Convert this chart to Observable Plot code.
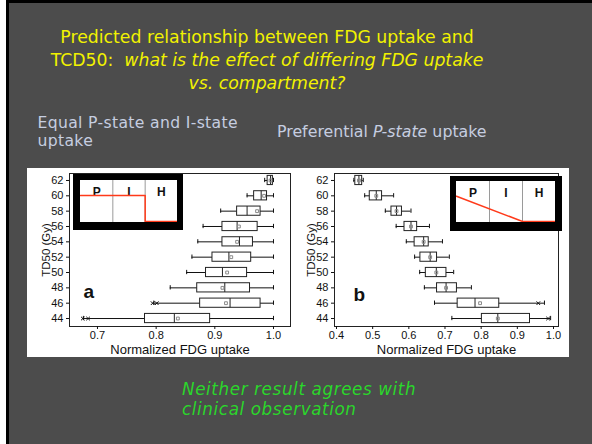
<!DOCTYPE html>
<html><head><meta charset="utf-8">
<script src="https://cdn.jsdelivr.net/npm/d3@7"></script>
<script src="https://cdn.jsdelivr.net/npm/@observablehq/plot@0.6"></script>
<style>
html,body{margin:0;padding:0;background:#4c4c4c;overflow:hidden;}
#slide{position:relative;width:592px;height:444px;background:#4c4c4c;overflow:hidden;font-family:"DejaVu Sans",Verdana,sans-serif;}
.blk{position:absolute;}
.line{position:absolute;white-space:nowrap;}
.inset{position:absolute;border-style:solid;border-color:#000;background:#fff;line-height:0;}
.panel{position:absolute;line-height:0;}
</style></head><body><div id="slide"></div>
<script>
// ---------- data ----------
const tdLevels = [44, 46, 48, 50, 52, 54, 56, 58, 60, 62];

// Panel a: equal P-state and I-state uptake
const aLo   = [0.676, 0.796, 0.824, 0.852, 0.861, 0.871, 0.880, 0.910, 0.955, 0.985];
const aQ1   = [0.781, 0.875, 0.870, 0.885, 0.896, 0.913, 0.913, 0.938, 0.967, 0.990];
const aMed  = [0.831, 0.926, 0.917, 0.913, 0.924, 0.942, 0.938, 0.955, 0.979, 0.995];
const aQ3   = [0.892, 0.978, 0.960, 0.955, 0.962, 0.965, 0.973, 0.978, 0.989, 0.999];
const aHi   = [1.000, 1.000, 1.000, 1.000, 1.000, 1.000, 1.000, 1.000, 1.000, 1.000];
const aMean = [0.837, 0.919, 0.913, 0.921, 0.928, 0.938, 0.941, 0.972, 0.984, 0.995];
const aExtTd = [44, 44, 46, 46];
const aExtV  = [0.675, 0.684, 0.794, 0.801];
const aXTicks = [0.7, 0.8, 0.9, 1.0];

// Panel b: preferential P-state uptake
const bLo   = [0.719, 0.671, 0.643, 0.630, 0.616, 0.593, 0.565, 0.535, 0.478, 0.448];
const bQ1   = [0.802, 0.735, 0.678, 0.647, 0.632, 0.616, 0.588, 0.552, 0.492, 0.452];
const bMed  = [0.846, 0.783, 0.703, 0.676, 0.659, 0.641, 0.606, 0.566, 0.510, 0.462];
const bQ3   = [0.935, 0.850, 0.733, 0.704, 0.678, 0.655, 0.623, 0.581, 0.526, 0.471];
const bHi   = [0.992, 0.975, 0.773, 0.724, 0.712, 0.693, 0.657, 0.606, 0.558, 0.474];
const bMean = [0.846, 0.797, 0.703, 0.676, 0.659, 0.641, 0.606, 0.566, 0.510, 0.462];
const bExtTd = [44, 46];
const bExtV  = [0.985, 0.958];
const bXTicks = [0.4, 0.5, 0.6, 0.7, 0.8, 0.9, 1.0];

// Inset diagrams: relative FDG uptake across compartments P | I | H
const compartments = ["P", "I", "H"];
const compBounds = [0, 1, 2, 3];
const profileA_c = [0, 2, 2, 3];
const profileA_u = [1, 1, 0, 0];
const profileB_c = [0, 2, 3];
const profileB_u = [1, 0, 0];

// Texts
const titleLines = [
  "Predicted relationship between FDG uptake and",
  "TCD50:&nbsp; <i>what is the effect of differing FDG uptake</i>",
  "<i>vs. compartment?</i>"
];
const subA = ["Equal P-state and I-state", "uptake"];
const subB = ["Preferential <i>P-state</i> uptake"];
const footLines = ["Neither result agrees with", "clinical observation"];
const xLabel = "Normalized FDG uptake";
const yLabel = "TD50 (Gy)";

// ---------- layout ----------
const slide = document.getElementById("slide");
function box(x, y, w, h, color) {
  const d = document.createElement("div");
  d.className = "blk";
  Object.assign(d.style, {left: x + "px", top: y + "px", width: w + "px", height: h + "px", background: color});
  slide.appendChild(d);
  return d;
}
box(0, 0, 6, 444, "#ffffff");
box(6, 0, 3, 444, "#000000");
box(6, 0, 586, 3, "#000000");
box(27, 168, 542, 189, "#ffffff");

// text block: first baseline at `base`, line pitch `lh`
function textBlock(lines, {x, base, size, lh, color, center = false, italic = false, ls = 0}) {
  const d = document.createElement("div");
  d.className = "line";
  d.innerHTML = lines.join("<br>");
  const top = base - ((lh - 1.164 * size) / 2 + 0.928 * size);
  Object.assign(d.style, {
    left: x + "px", top: top + "px", fontSize: size + "px", lineHeight: lh + "px", color,
    letterSpacing: ls + "px",
    fontStyle: italic ? "italic" : "normal",
    textAlign: center ? "center" : "left",
    transform: center ? "translateX(-50%)" : "none"
  });
  slide.appendChild(d);
}
textBlock(titleLines, {x: 267, base: 43.3, size: 17.3, lh: 23, color: "#f2f200", center: true});
textBlock(subA, {x: 37.5, base: 128.7, size: 15.6, lh: 18.2, color: "#c6cee0", ls: 0.35});
textBlock(subB, {x: 277, base: 137.3, size: 15.8, lh: 18.2, color: "#c6cee0"});
textBlock(footLines, {x: 182, base: 396, size: 16.8, lh: 19.6, color: "#2bd62b", italic: true, ls: 0.6});

const yDomain = [42.96, 62.91];
function makePanel(cfg) {
  const rows = tdLevels.map((t, i) => ({td: t, lo: cfg.lo[i], q1: cfg.q1[i], med: cfg.med[i], q3: cfg.q3[i], hi: cfg.hi[i], mean: cfg.mean[i]}));
  const ext = cfg.extTd.map((t, i) => ({td: t, v: cfg.extV[i]}));
  const half = 0.6, cap = 0.28;
  return Plot.plot({
    width: cfg.width, height: 189,
    marginLeft: 42, marginRight: cfg.mr, marginTop: 5, marginBottom: 31,
    style: {background: "transparent", fontFamily: "'Liberation Sans', Arial, sans-serif", color: "#111"},
    x: {domain: cfg.xDomain},
    y: {domain: yDomain},
    marks: [
      Plot.ruleY(rows, {y: "td", x1: "lo", x2: "hi", stroke: "#111", strokeWidth: 1}),
      Plot.ruleX(rows, {x: "lo", y1: d => d.td - cap, y2: d => d.td + cap, stroke: "#111"}),
      Plot.ruleX(rows, {x: "hi", y1: d => d.td - cap, y2: d => d.td + cap, stroke: "#111"}),
      Plot.rectX(rows, {x1: "q1", x2: "q3", y1: d => d.td - half, y2: d => d.td + half, fill: "white", stroke: "#222", strokeWidth: 1}),
      Plot.ruleX(rows, {x: "med", y1: d => d.td - half, y2: d => d.td + half, stroke: "#222"}),
      Plot.dot(rows, {x: "mean", y: "td", symbol: "square", r: 1.6, stroke: "#8a8a8a", fill: "none", strokeWidth: 1}),
      Plot.dot(ext, {x: "v", y: "td", symbol: "times", r: 1.8, stroke: "#111", strokeWidth: 1}),
      Plot.frame({stroke: "#222"}),
      Plot.axisX({ticks: cfg.xTicks, tickFormat: d3.format(".1f"), tickSize: 3, tickPadding: 2, label: null, fontSize: 11}),
      Plot.axisY({ticks: tdLevels, tickSize: 3, tickPadding: 3, label: null, fontSize: 11}),
      Plot.text([xLabel], {text: d => d, frameAnchor: "bottom", textAnchor: "middle", lineAnchor: "middle", dy: 23, fontSize: 13}),
      Plot.text([yLabel], {text: d => d, frameAnchor: "left", textAnchor: "middle", lineAnchor: "middle", rotate: -90, dx: -23, fontSize: 11.5}),
      Plot.text([cfg.letter], {text: d => d, frameAnchor: "bottom-left", textAnchor: "start", dx: cfg.ldx, dy: cfg.ldy, fontSize: 19, fontWeight: "bold"})
    ]
  });
}
function place(el, x, y, cls) {
  const d = document.createElement("div");
  d.className = cls;
  d.style.left = x + "px";
  d.style.top = y + "px";
  d.appendChild(el);
  slide.appendChild(d);
  return d;
}
place(makePanel({lo: aLo, q1: aQ1, med: aMed, q3: aQ3, hi: aHi, mean: aMean, extTd: aExtTd, extV: aExtV,
  xDomain: [0.6523, 1.029], xTicks: aXTicks, width: 265, mr: 2, letter: "a", ldx: 14, ldy: -29}), 27, 168, "panel");
place(makePanel({lo: bLo, q1: bQ1, med: bMed, q3: bQ3, hi: bHi, mean: bMean, extTd: bExtTd, extV: bExtV,
  xDomain: [0.3945, 1.0138], xTicks: bXTicks, width: 277, mr: 11, letter: "b", ldx: 19, ldy: -26}), 292, 168, "panel");

function makeInset(cs, us, w, h) {
  const profile = cs.map((c, i) => ({c, u: us[i]}));
  const labels = compartments.map((name, i) => ({name, mid: (compBounds[i] + compBounds[i + 1]) / 2}));
  return Plot.plot({
    width: w, height: h, margin: 0, axis: null,
    style: {background: "white", fontFamily: "'Liberation Sans', Arial, sans-serif", color: "#111"},
    x: {domain: [compBounds[0], compBounds[3]]},
    y: {domain: [-0.04, 1.58]},
    marks: [
      Plot.ruleX(compBounds.slice(1, 3), {stroke: "#9a9a9a", strokeWidth: 1}),
      Plot.text(labels, {x: "mid", text: "name", frameAnchor: "top", dy: 7, fontSize: 12, fontWeight: "bold"}),
      Plot.line(profile, {x: "c", y: "u", stroke: "#ff3a1a", strokeWidth: 1.5})
    ]
  });
}
const insA = place(makeInset(profileA_c, profileA_u, 97, 42), 73, 174, "inset");
insA.style.borderWidth = "6px 6px 8px 7px";
const insB = place(makeInset(profileB_c, profileB_u, 99, 41), 450, 176, "inset");
insB.style.borderWidth = "5px 7px 9px 6px";
</script>
</body></html>
